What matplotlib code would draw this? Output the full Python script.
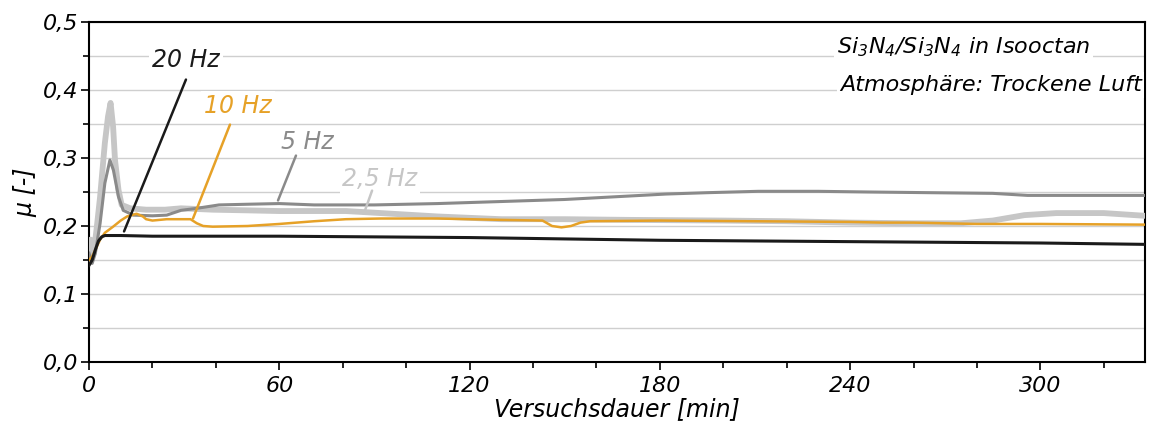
import matplotlib
matplotlib.use("Agg")
import matplotlib.pyplot as plt
from matplotlib.ticker import MultipleLocator, FuncFormatter

# ---------------- data ----------------
t_20 = [0, 1, 2, 3, 4, 5, 10, 20, 40, 60, 90, 120, 150, 180, 210, 240, 270, 300, 333]
mu_20 = [0.142, 0.150, 0.165, 0.178, 0.184, 0.186, 0.186, 0.185, 0.185, 0.185, 0.184,
         0.183, 0.181, 0.179, 0.178, 0.177, 0.176, 0.175, 0.173]

t_10 = [0, 1, 2, 3.5, 5, 7.6, 10, 12, 15, 17, 18, 20, 24.5, 30, 32, 34, 36, 39, 50, 60,
        71, 81, 92, 110, 130, 143, 146, 149, 152, 155, 158, 180, 210, 240, 250, 260,
        280, 300, 333]
mu_10 = [0.150, 0.155, 0.165, 0.180, 0.190, 0.199, 0.208, 0.214, 0.218, 0.214, 0.210,
         0.208, 0.210, 0.210, 0.210, 0.204, 0.200, 0.199, 0.200, 0.203, 0.207, 0.210,
         0.211, 0.211, 0.209, 0.208, 0.200, 0.198, 0.200, 0.205, 0.207, 0.208, 0.207,
         0.206, 0.205, 0.205, 0.203, 0.203, 0.202]

t_5 = [0, 1, 2, 3.5, 5, 6.6, 7.7, 9.3, 10.8, 14, 20, 24.5, 29, 34, 41, 50, 60, 71, 90,
       110, 130, 150, 170, 182, 195, 211, 230, 246, 265, 285, 296, 333]
mu_5 = [0.160, 0.145, 0.160, 0.204, 0.263, 0.297, 0.282, 0.243, 0.223, 0.216, 0.215,
        0.216, 0.223, 0.226, 0.231, 0.232, 0.233, 0.231, 0.231, 0.233, 0.236, 0.239,
        0.244, 0.247, 0.249, 0.251, 0.251, 0.250, 0.249, 0.248, 0.245, 0.245]

t_25 = [0, 0.5, 1.5, 2.5, 3.5, 5, 6, 6.8, 7.6, 8.2, 9.3, 10.3, 13, 18, 24, 29, 39, 50,
        60, 81, 92, 110, 130, 150, 170, 200, 220, 240, 260, 275, 285, 295, 305, 320, 333]
mu_25 = [0.150, 0.180, 0.160, 0.200, 0.243, 0.322, 0.361, 0.381, 0.346, 0.297, 0.253,
         0.231, 0.226, 0.224, 0.224, 0.226, 0.224, 0.223, 0.222, 0.222, 0.219, 0.214,
         0.210, 0.210, 0.209, 0.208, 0.207, 0.205, 0.204, 0.204, 0.208, 0.216, 0.219,
         0.219, 0.215]

x_ticks = [0, 60, 120, 180, 240, 300]
y_ticks = [0.0, 0.1, 0.2, 0.3, 0.4, 0.5]

# ---------------- styling ----------------
C_BLACK = "#1a1a1a"
C_ORANGE = "#E6A127"
C_DGRAY = "#8a8a8a"
C_LGRAY = "#c6c6c6"
FONT = "DejaVu Sans"

plt.rcParams["font.family"] = [FONT]
plt.rcParams["font.style"] = "italic"
plt.rcParams["mathtext.fontset"] = "custom"
plt.rcParams["mathtext.rm"] = "DejaVu Sans:italic"
plt.rcParams["mathtext.it"] = "DejaVu Sans:italic"

fig = plt.figure(figsize=(11.5, 4.28), dpi=100)
ax = fig.add_axes([89 / 1150, 1 - 362 / 428, (1145 - 89) / 1150, 340 / 428])

ax.plot(t_25, mu_25, color=C_LGRAY, lw=4.2, solid_joinstyle="round", zorder=3)
ax.plot(t_5, mu_5, color=C_DGRAY, lw=2.2, zorder=4)
ax.plot(t_10, mu_10, color=C_ORANGE, lw=1.8, zorder=5)
ax.plot(t_20, mu_20, color=C_BLACK, lw=2.2, zorder=6)

ax.set_xlim(0, 333)
ax.set_ylim(0, 0.5)
ax.set_xticks(x_ticks)
ax.set_yticks(y_ticks)
ax.xaxis.set_minor_locator(MultipleLocator(20))
ax.yaxis.set_minor_locator(MultipleLocator(0.05))
ax.yaxis.set_major_formatter(FuncFormatter(lambda v, p: f"{v:.1f}".replace(".", ",")))
ax.grid(True, which="both", axis="y", color="#cfcfcf", lw=1.0, zorder=0)
ax.tick_params(axis="both", which="major", direction="out", length=6, width=1.2,
               labelsize=16, colors="black")
ax.tick_params(axis="both", which="minor", direction="out", length=4, width=1.2)
ax.tick_params(axis="x", pad=4)
ax.tick_params(axis="y", pad=2)
for lab in ax.get_xticklabels() + ax.get_yticklabels():
    lab.set_fontstyle("italic")
for sp in ax.spines.values():
    sp.set_linewidth(1.5)
    sp.set_color("black")

ax.set_xlabel("Versuchsdauer [min]", fontsize=17, style="italic", labelpad=1)
ax.set_ylabel("μ [-]", fontsize=17, style="italic", labelpad=4)

# ---------------- curve labels with leader lines ----------------
def px(x, y):
    # convert reference pixel position to data coordinates for label placement
    tx = (x - 89) / (1145 - 89) * 333
    ty = (362 - y) / 340 * 0.5
    return tx, ty

bbox = dict(facecolor="white", edgecolor="none", pad=2)
labels = [
    ("20 Hz", C_BLACK, (186, 60), (187, 77), (123, 234)),
    ("10 Hz", C_ORANGE, (238, 106), (231, 122), (192, 221)),
    ("5 Hz", C_DGRAY, (307, 142), (297, 153), (277, 203)),
    ("2,5 Hz", C_LGRAY, (380, 179), (373, 188), (363, 216)),
]
for txt, col, tpos, l0, l1 in labels:
    ax.text(*px(*tpos), txt, color=col, fontsize=17, style="italic",
            ha="center", va="center", bbox=bbox, zorder=7)
    ax.annotate("", xy=px(*l1), xytext=px(*l0),
                arrowprops=dict(arrowstyle="-", color=col, lw=1.8), zorder=8)

ax.text(0.948, 0.925, "Si$_3$N$_4$/Si$_3$N$_4$ in Isooctan", transform=ax.transAxes,
        ha="right", va="center", fontsize=16, style="italic", bbox=bbox, zorder=7)
ax.text(0.997, 0.815, "Atmosphäre: Trockene Luft", transform=ax.transAxes,
        ha="right", va="center", fontsize=16, style="italic", bbox=bbox, zorder=7)

fig.savefig("out.png", dpi=100)
